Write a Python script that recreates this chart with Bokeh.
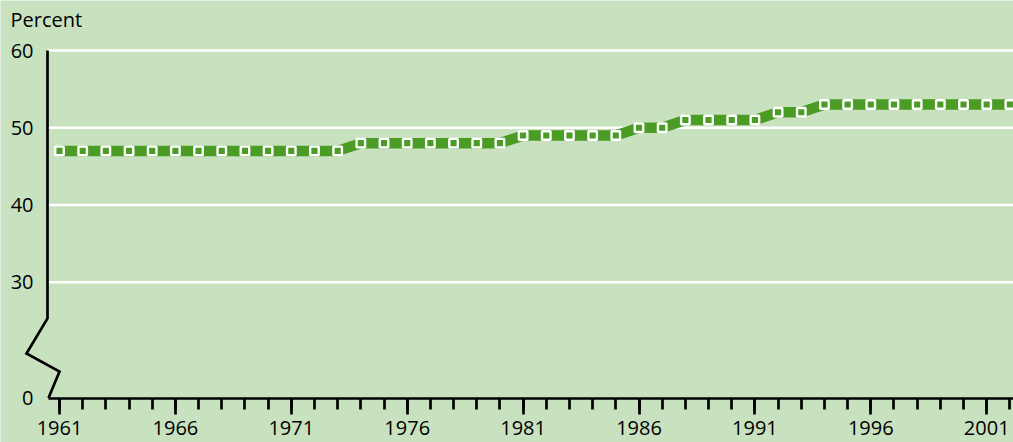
from bokeh.plotting import figure
from bokeh.models import FixedTicker, Label, ColumnDataSource, Range1d
from bokeh.embed import file_html
from bokeh.resources import INLINE

# ---- data ----
years = [1961, 1962, 1963, 1964, 1965, 1966, 1967, 1968, 1969, 1970,
         1971, 1972, 1973, 1974, 1975, 1976, 1977, 1978, 1979, 1980,
         1981, 1982, 1983, 1984, 1985, 1986, 1987, 1988, 1989, 1990,
         1991, 1992, 1993, 1994, 1995, 1996, 1997, 1998, 1999, 2000,
         2001, 2002]
percent = [47, 47, 47, 47, 47, 47, 47, 47, 47, 47,
           47, 47, 47, 48, 48, 48, 48, 48, 48, 48,
           49, 49, 49, 49, 49, 50, 50, 51, 51, 51,
           51, 52, 52, 53, 53, 53, 53, 53, 53, 53,
           53, 53]
major_years = [1961, 1966, 1971, 1976, 1981, 1986, 1991, 1996, 2001]
y_ticks = [15, 30, 40, 50, 60]
y_labels = {15: "0"}
grid_levels = [30, 40, 50, 60]
AXIS_BASE = 15  # the broken axis shows "0" here

# ---- style ----
BG = "#c8e2c0"
GREEN = "#4a9c24"
FONT = "Open Sans"
FS = "20px"
AXW = 2.7

W, H = 1013, 442
PX_YEAR = 23.18
x0 = 1961 - 59 / PX_YEAR
x1 = x0 + W / PX_YEAR
PX_UNIT = (397.5 - 50) / (60 - AXIS_BASE)
y1 = 60 + 50 / PX_UNIT
y0 = 60 - (H - 50) / PX_UNIT


def px_x(px):
    return x0 + px / PX_YEAR


def px_y(py):
    return 60 - (py - 50) / PX_UNIT


axis_x = px_x(47)

p = figure(width=W, height=H,
           x_range=Range1d(x0, x1), y_range=Range1d(y0, y1),
           output_backend="svg", toolbar_location=None,
           min_border_left=0, min_border_right=0, min_border_top=0,
           min_border_bottom=0)
p.background_fill_color = BG
p.border_fill_color = BG
p.outline_line_color = None
p.xgrid.visible = False
p.ygrid.visible = False

# grid lines (start at the y axis)
p.segment(x0=[axis_x] * len(grid_levels), y0=grid_levels,
          x1=[x1] * len(grid_levels), y1=grid_levels,
          line_color="white", line_width=2.5)

# y axis line with break
p.line(x=[px_x(47), px_x(47), px_x(26), px_x(59), px_x(48)],
       y=[60, px_y(318), px_y(353), px_y(371), AXIS_BASE],
       line_color="black", line_width=AXW, line_join="miter")

src = ColumnDataSource(dict(year=years, pct=percent))
p.line("year", "pct", source=src, line_color=GREEN, line_width=10.5)
p.scatter("year", "pct", source=src, marker="square", size=8.5,
          fill_color=GREEN, line_color="white", line_width=2.4)

# x axis
xa = p.xaxis[0]
xa.fixed_location = AXIS_BASE
xa.ticker = FixedTicker(ticks=major_years, minor_ticks=years)
xa.bounds = (px_x(47.5), x1)
xa.axis_line_width = AXW
xa.axis_line_color = "black"
xa.major_tick_out = 16
xa.major_tick_in = 0
xa.minor_tick_out = 11
xa.minor_tick_in = 0
xa.major_tick_line_width = AXW
xa.minor_tick_line_width = AXW
xa.major_label_text_font = FONT
xa.major_label_text_font_size = FS
xa.major_label_text_color = "black"
xa.major_label_standoff = 7

# y axis
ya = p.yaxis[0]
ya.fixed_location = axis_x
ya.ticker = FixedTicker(ticks=y_ticks)
ya.major_label_overrides = y_labels
ya.axis_line_color = None
ya.major_tick_line_color = None
ya.minor_tick_line_color = None
ya.major_tick_out = 0
ya.major_tick_in = 0
ya.major_label_standoff = 14
ya.major_label_text_font = FONT
ya.major_label_text_font_size = FS
ya.major_label_text_color = "black"

p.add_layout(Label(x=px_x(10), y=px_y(19), text="Percent",
                   text_font=FONT, text_font_size=FS,
                   text_color="black", text_baseline="alphabetic"))

html = file_html(p, INLINE)
html = html.replace("<body>", '<body style="margin:0;background:%s">' % BG, 1)
open("out.html", "w").write(html)
